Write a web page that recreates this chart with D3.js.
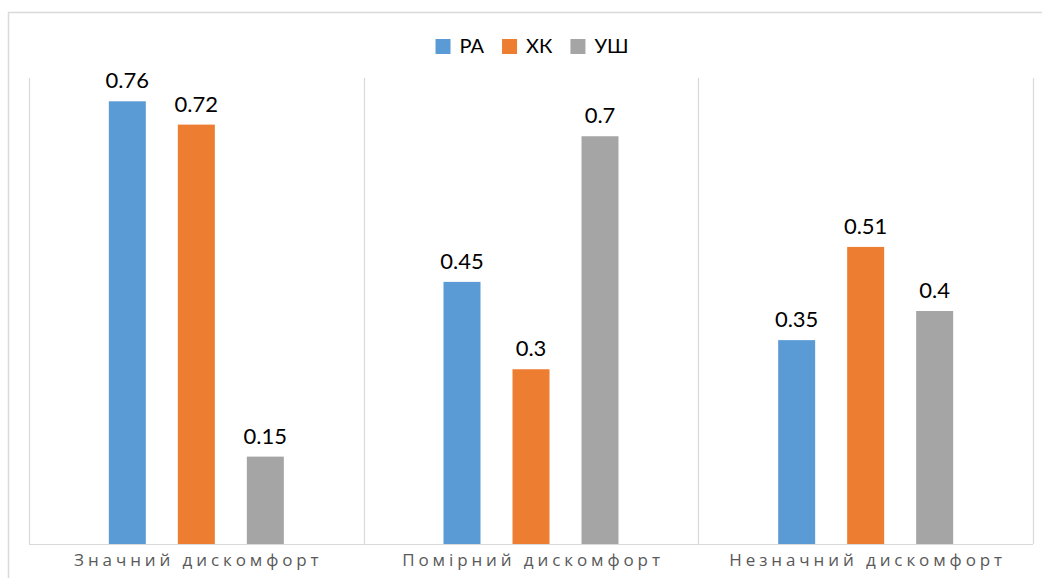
<!DOCTYPE html>
<html>
<head>
<meta charset="utf-8">
<script src="https://cdn.jsdelivr.net/npm/d3@7"></script>
<style>
  html, body { margin: 0; padding: 0; background: #fff; }
  svg { display: block; }
</style>
</head>
<body>
<svg id="chart" width="1042" height="578"></svg>
<script>
// Categories and series
const categories = ["Значний дискомфорт", "Помірний дискомфорт", "Незначний дискомфорт"];
const seriesNames = ["РА", "ХК", "УШ"];
const seriesColors = ["#5B9BD5", "#ED7D31", "#A5A5A5"];
const valuesRA = [0.76, 0.45, 0.35];
const valuesXK = [0.72, 0.3, 0.51];
const valuesUSh = [0.15, 0.7, 0.4];
const yDomain = [0, 0.8];

const seriesValues = [valuesRA, valuesXK, valuesUSh];
const rows = categories.map((c, i) => ({
  category: c,
  items: seriesNames.map((s, j) => ({ series: s, value: seriesValues[j][i], color: seriesColors[j] }))
}));

const svg = d3.select("#chart");
const plot = { left: 29, right: 1033, top: 78, bottom: 544 };

// Outer chart frame
svg.append("rect")
  .attr("x", 8.5).attr("y", 12.5)
  .attr("width", 1100).attr("height", 1000)
  .attr("fill", "#fff")
  .attr("stroke", "#D9D9D9").attr("stroke-width", 1.5);

const x0 = d3.scaleBand().domain(categories).range([plot.left, plot.right]).padding(0);
const x1 = d3.scaleBand().domain(seriesNames).range([0, x0.bandwidth()])
  .paddingInner(0.4638).paddingOuter(1.157);
const y = d3.scaleLinear().domain(yDomain).range([plot.bottom, plot.top]);

// Category separators and baseline
const grid = svg.append("g").attr("stroke", "#D9D9D9").attr("stroke-width", 1.2);
const bounds = categories.map(c => x0(c)).concat([x0(categories[categories.length - 1]) + x0.bandwidth()]);
grid.selectAll("line.sep").data(bounds).join("line")
  .attr("class", "sep")
  .attr("x1", d => Math.round(d) + 0.5).attr("x2", d => Math.round(d) + 0.5)
  .attr("y1", y(yDomain[1])).attr("y2", y(0));
grid.append("line")
  .attr("x1", plot.left).attr("x2", plot.right)
  .attr("y1", y(0) + 0.5).attr("y2", y(0) + 0.5);

// Bars
const groups = svg.selectAll("g.cat").data(rows).join("g")
  .attr("class", "cat")
  .attr("transform", d => `translate(${x0(d.category)},0)`);

groups.selectAll("rect").data(d => d.items).join("rect")
  .attr("x", d => x1(d.series))
  .attr("width", x1.bandwidth())
  .attr("y", d => y(d.value))
  .attr("height", d => y(0) - y(d.value))
  .attr("fill", d => d.color);

// Value labels
groups.selectAll("text.val").data(d => d.items).join("text")
  .attr("class", "val")
  .attr("x", d => x1(d.series) + x1.bandwidth() / 2)
  .attr("y", d => y(d.value) - 13)
  .attr("text-anchor", "middle")
  .attr("font-family", "Lato, 'Open Sans', sans-serif")
  .attr("font-size", 22)
  .attr("fill", "#000")
  .text(d => String(d.value));

// Category axis labels
svg.append("g").selectAll("text").data(categories).join("text")
  .attr("x", d => x0(d) + x0.bandwidth() / 2 + 2)
  .attr("y", 566)
  .attr("text-anchor", "middle")
  .attr("font-family", "'Open Sans', sans-serif")
  .attr("font-size", 17)
  .attr("letter-spacing", "3.9px")
  .attr("fill", "#595959")
  .text(d => d);

// Legend
const legend = svg.append("g").attr("font-family", "Lato, 'Open Sans', sans-serif").attr("font-size", 20);
const sw = 15, gapSwatch = 9, gapItem = 18;
const items = seriesNames.map((s, i) => ({ name: s, color: seriesColors[i] }));
const itemG = legend.selectAll("g").data(items).join("g");
itemG.append("rect").attr("width", sw).attr("height", sw).attr("y", 39).attr("fill", d => d.color);
itemG.append("text").attr("x", sw + gapSwatch).attr("y", 53).attr("fill", "#000").text(d => d.name);
let offs = [], total = 0;
itemG.each(function (d, i) {
  const tw = d3.select(this).select("text").node().getComputedTextLength();
  offs.push(total);
  total += sw + gapSwatch + tw + (i < items.length - 1 ? gapItem : 0);
});
const startX = 532 - total / 2;
itemG.attr("transform", (d, i) => `translate(${startX + offs[i]},0)`);
</script>
</body>
</html>
